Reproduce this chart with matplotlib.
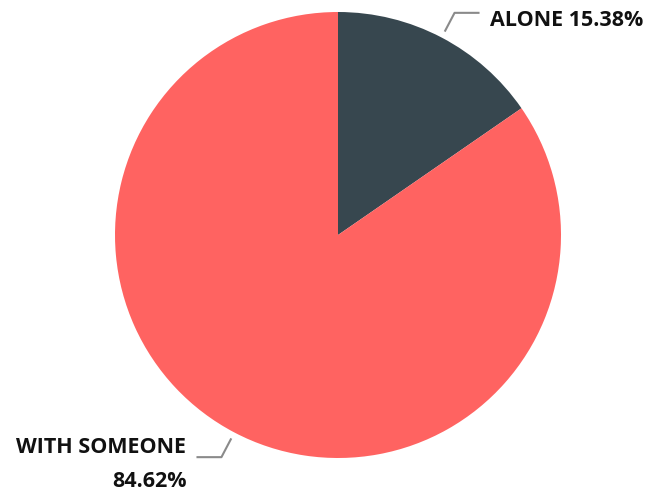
import numpy as np
import matplotlib
matplotlib.use("Agg")
import matplotlib.pyplot as plt

categories = ["ALONE", "WITH SOMEONE"]
values = [15.38, 84.62]
colors = ["#37474F", "#FF6361"]

plt.rcParams['font.family'] = ['Open Sans', 'DejaVu Sans']

W, H = 650, 493
fig = plt.figure(figsize=(W / 100, H / 100), dpi=100)
cx, cy, R = 338, 235, 223
ax = fig.add_axes([(cx - R) / W, (H - cy - R) / H, 2 * R / W, 2 * R / H])
ax.set_xlim(-1, 1)
ax.set_ylim(-1, 1)
ax.set_aspect('equal')
ax.axis('off')

wedges, _ = ax.pie(values, colors=colors, startangle=90, counterclock=False,
                   radius=1, wedgeprops=dict(linewidth=0))
ax.set_xlim(-1, 1)
ax.set_ylim(-1, 1)

fs = 15.5
for w, cat, val in zip(wedges, categories, values):
    mid = np.deg2rad((w.theta1 + w.theta2) / 2)
    x0, y0 = 1.03 * np.cos(mid), 1.03 * np.sin(mid)
    x1, y1 = 1.125 * np.cos(mid), 1.125 * np.sin(mid)
    side = 1 if np.cos(mid) >= 0 else -1
    x2 = x1 + side * 0.112
    ax.plot([x0, x1, x2], [y0, y1, y1], color="#8a8a8a", lw=1.5,
            clip_on=False, solid_capstyle='butt')
    tx = x2 + side * 0.045
    if side > 0:
        ax.text(tx, y1 - 0.061, f"{cat} {val:.2f}%", ha='left', va='baseline',
                fontsize=fs, fontweight='bold', color='#111111')
    else:
        ax.text(tx, y1 + 0.018, cat, ha='right', va='baseline',
                fontsize=fs, fontweight='bold', color='#111111')
        ax.text(tx, y1 - 0.133, f"{val:.2f}%", ha='right', va='baseline',
                fontsize=fs, fontweight='bold', color='#111111')

fig.savefig("out.png", dpi=100)
